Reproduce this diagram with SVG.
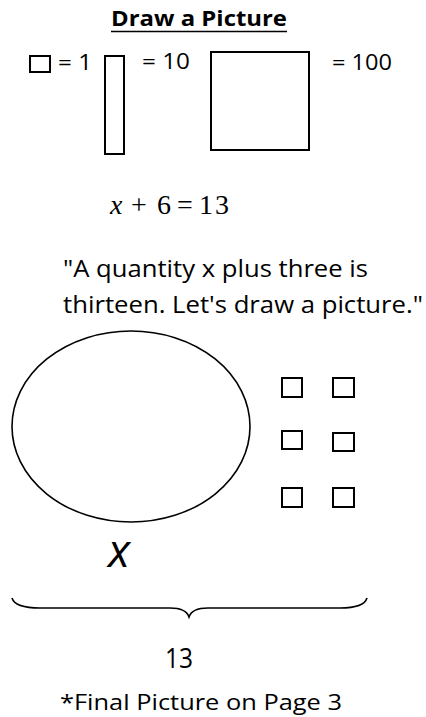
<svg xmlns="http://www.w3.org/2000/svg" width="426" height="717" viewBox="0 0 426 717">
<style>
.s{fill:none;stroke:#000;stroke-width:1.6}
.b{fill:none;stroke:#000;stroke-width:2}
.t{font-family:"Open Sans","Noto Sans",sans-serif;fill:#000}
.m{font-family:"Liberation Serif","Times New Roman",serif;fill:#000}
</style>
<rect width="426" height="717" fill="#fff"/>
<g id="title">
<text class="t" x="111" y="26" font-size="22" font-weight="bold" textLength="176" lengthAdjust="spacingAndGlyphs">Draw a Picture</text>
<line x1="111" y1="31.5" x2="287" y2="31.5" stroke="#000" stroke-width="1.6"/>
</g>
<g id="legend">
<rect class="b" x="30" y="56" width="20" height="16"/>
<text class="t" x="58" y="70" font-size="21" textLength="34" lengthAdjust="spacingAndGlyphs">= 1</text>
<rect class="b" x="105" y="56" width="19" height="98"/>
<text class="t" x="142" y="69" font-size="21" textLength="48" lengthAdjust="spacingAndGlyphs">= 10</text>
<rect class="b" x="211" y="52" width="98" height="98"/>
<text class="t" x="332" y="70" font-size="21" textLength="60" lengthAdjust="spacingAndGlyphs">= 100</text>
</g>
<g id="equation">
<text class="m" y="214" font-size="28"><tspan x="110" font-style="italic">x</tspan><tspan x="131">+</tspan><tspan x="157">6</tspan><tspan x="177">=</tspan><tspan x="199" letter-spacing="2">13</tspan></text>
</g>
<g id="quote">
<text class="t" x="63" y="277" font-size="23" textLength="305" lengthAdjust="spacingAndGlyphs">"A quantity x plus three is</text>
<text class="t" x="63" y="313" font-size="23" textLength="360" lengthAdjust="spacingAndGlyphs">thirteen. Let's draw a picture."</text>
</g>
<g id="ellipse">
<ellipse class="s" cx="131" cy="426.5" rx="119" ry="95.5"/>
</g>
<g id="units">
<rect class="b" x="282" y="378" width="20" height="19"/>
<rect class="b" x="333" y="378" width="21" height="19"/>
<rect class="b" x="282" y="431" width="20" height="18"/>
<rect class="b" x="333" y="433" width="21" height="18"/>
<rect class="b" x="282" y="488" width="20" height="19"/>
<rect class="b" x="333" y="488" width="21" height="19"/>
</g>
<g id="x-label">
<text class="t" x="108" y="567" font-size="46" font-style="italic">x</text>
</g>
<g id="brace">
<path class="s" d="M12,598 Q15,608 40,608 L170,608 Q186,608 189,617 Q192,608 208,608 L340,608 Q364,608 367,598"/>
</g>
<g id="total">
<text class="t" x="165" y="668" font-size="27" textLength="28" lengthAdjust="spacingAndGlyphs">13</text>
</g>
<g id="note">
<text class="t" x="60" y="710" font-size="22" textLength="282" lengthAdjust="spacingAndGlyphs">*Final Picture on Page 3</text>
</g>
</svg>
